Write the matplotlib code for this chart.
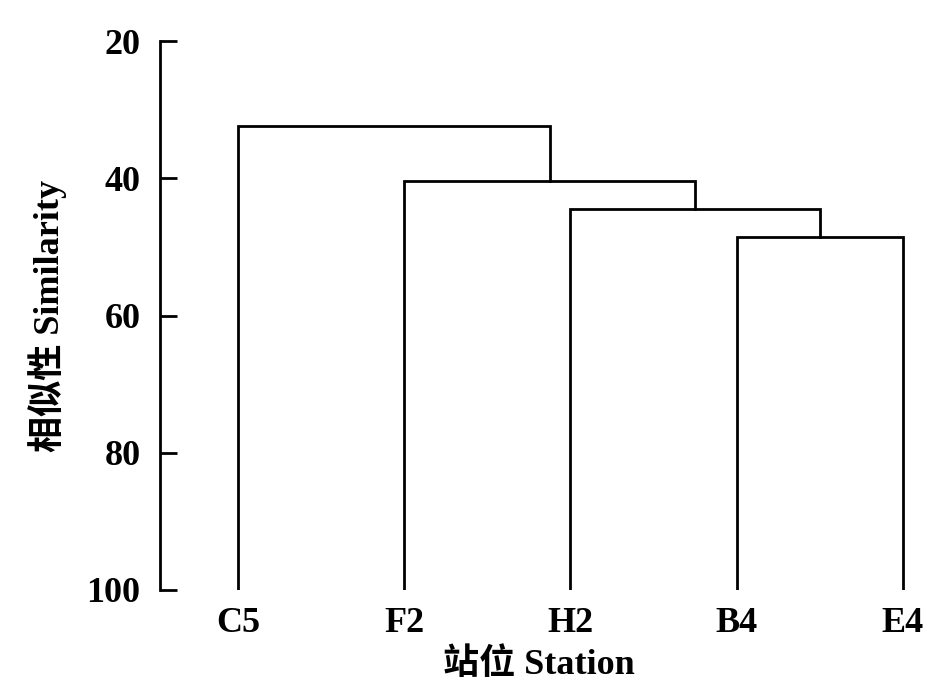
import matplotlib
matplotlib.use('Agg')
import matplotlib.pyplot as plt
import numpy as np

# stations (leaf order) and the merge steps of the cluster tree
stations = ['C5', 'F2', 'H2', 'B4', 'E4']
# each merge joins two clusters (0..4 are leaves, 5.. are new clusters)
mergeLeft = [3, 2, 1, 0]
mergeRight = [4, 5, 6, 7]
mergeSimilarity = [48.6, 44.5, 40.4, 32.4]

yTicks = [20, 40, 60, 80, 100]
bottomValue = 100

plt.rcParams['font.family'] = ['Liberation Serif', 'Noto Sans CJK SC']
plt.rcParams['font.weight'] = 'bold'


def buildLinks():
    # x position and height of every cluster
    xPos = list(np.arange(1, len(stations) + 1, dtype=float))
    height = [bottomValue] * len(stations)
    links = []
    for a, b, h in zip(mergeLeft, mergeRight, mergeSimilarity):
        xa, xb = xPos[a], xPos[b]
        links.append(([xa, xa, xb, xb], [height[a], h, h, height[b]]))
        xPos.append((xa + xb) / 2)
        height.append(h)
    return links


fig = plt.figure(figsize=(9.27, 6.87), dpi=100)
ax = fig.add_axes([0.1726, 0.1412, 0.8174, 0.7991])

for xs, ys in buildLinks():
    ax.plot(xs, ys, color='black', lw=2.0, solid_joinstyle='miter')

ax.set_ylim(bottomValue, 20)
ax.set_xlim(0.531, 5.09)
ax.set_yticks(yTicks)
ax.set_xticks(np.arange(1, len(stations) + 1))
ax.set_xticklabels(stations)

for side in ['top', 'right', 'bottom']:
    ax.spines[side].set_visible(False)
ax.spines['left'].set_linewidth(2.0)

fontSize = 26
ax.tick_params(axis='y', direction='in', length=12, width=2.0, pad=14, labelsize=fontSize)
ax.tick_params(axis='x', length=0, pad=12, labelsize=fontSize)

ax.set_ylabel('相似性 Similarity', fontsize=fontSize, fontweight='bold', labelpad=14)
ax.set_xlabel('站位 Station', fontsize=fontSize, fontweight='bold', labelpad=6)

fig.savefig('out.png', dpi=100)
